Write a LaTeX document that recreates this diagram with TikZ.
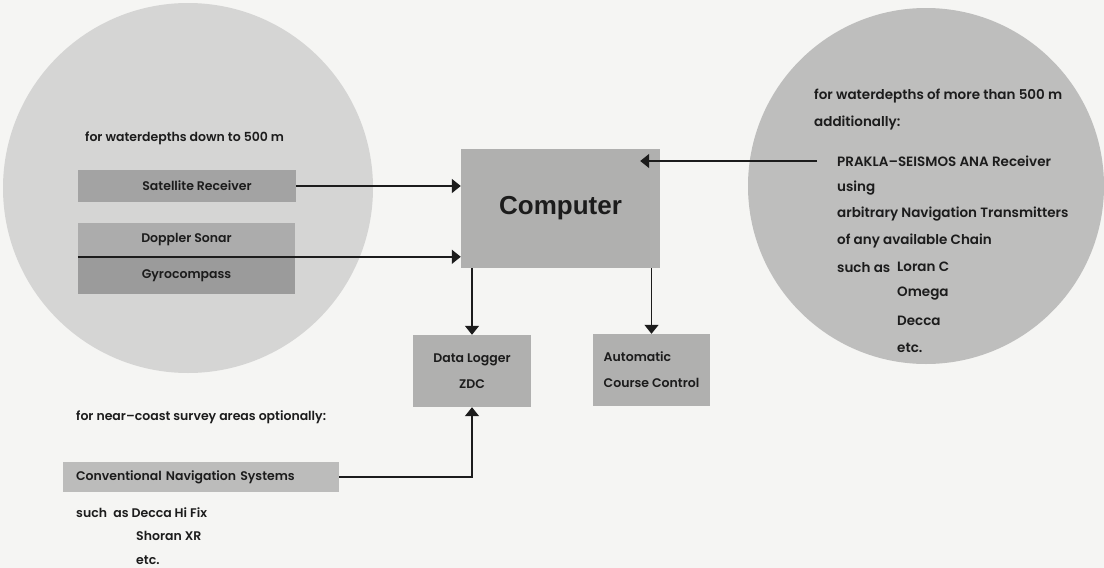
\documentclass[tikz,border=0pt]{standalone}
\usepackage{fontspec}
\setmainfont{Poppins}[UprightFont=* SemiBold]
\newfontfamily\compfont{Liberation Sans}
\usetikzlibrary{arrows.meta}

\definecolor{sfondo}{HTML}{F5F5F3}
\definecolor{cerchiosx}{HTML}{D5D5D4}
\definecolor{cerchiodx}{HTML}{BEBEBD}
\definecolor{barra}{HTML}{A3A3A3}
\definecolor{blocco}{HTML}{B0B0AF}
\definecolor{inchiostro}{HTML}{1C1C1C}

\tikzset{
  testo/.style={font=\fontsize{12.5}{14}\selectfont, text=inchiostro, anchor=west, inner sep=0pt},
  testogr/.style={testo, font=\fontsize{13.5}{15}\selectfont},
  barrabox/.style={fill=barra, text=inchiostro, inner sep=0pt, font=\fontsize{12.5}{14}\selectfont},
  blocbox/.style={fill=blocco, text=inchiostro, inner sep=0pt, font=\fontsize{12.5}{26}\selectfont},
  freccia/.style={line width=1.7pt, draw=inchiostro, -{Triangle[length=9pt,width=14pt]}},
}

\begin{document}
\begin{tikzpicture}[x=1pt,y=-1pt]
    \useasboundingbox (0,0) rectangle (1104,568);
    \fill[sfondo] (0,0) rectangle (1104,568);

    % Disegna i due cerchi
    \fill[cerchiosx] (188,188) circle[radius=185];
    \fill[cerchiodx] (926,186) circle[radius=178];

    % Cerchio di sinistra: ricevitori
    \node[testo] (acque1) at (85,138) {for waterdepths down to 500 m};
    \node[barrabox, minimum width=218, minimum height=32] (sat) at (187,186) {\hspace*{20pt}Satellite Receiver};
    \node[barrabox, minimum width=217, minimum height=34, fill=barra!90!white] (doppler) at (186.5,240) {Doppler Sonar};
    \node[barrabox, minimum width=217, minimum height=37, fill=barra!95!black] (gyro) at (186.5,275.5) {Gyrocompass};

    % Blocco centrale
    \node[blocbox, minimum width=199, minimum height=119,
          font=\compfont\bfseries\fontsize{26}{28}\selectfont] (comp) at (560.5,208.5) {Computer};

    % Uscite
    \node[blocbox, minimum width=118, minimum height=72, align=center] (logger) at (472,371) {Data Logger\\ZDC};
    \node[blocbox, minimum width=117, minimum height=72, align=left] (course) at (651.5,370) {Automatic\\Course Control};

    % Cerchio di destra: ricevitore ANA
    \node[testogr] (acque2) at (814,96) {for waterdepths of more than 500 m};
    \node[testogr] (addiz) at (814,123) {additionally:};
    \foreach \riga [count=\i] in {PRAKLA--SEISMOS ANA Receiver, using,
        arbitrary Navigation Transmitters, of any available Chain, such as}
      \node[testogr] (ana\i) at (837,161+26.7*\i-26.7) {\riga};
    \foreach \catena [count=\i] in {Loran C, Omega, Decca, etc.}
      \node[testogr] (catena\i) at (897,267+27*\i-27) {\catena};

    % Sistemi vicino alla costa
    \node[testo] (costa) at (76,417) {for near--coast survey areas optionally:};
    \node[barrabox, fill=blocco!85!white, minimum width=276, minimum height=30,
          text width=250, inner xsep=13pt, align=left] (conv) at (201,477) {Conventional Navigation Systems};
    \node[testo] (hifix) at (76,513) {such\enspace as Decca Hi Fix};
    \node[testo] (shoran) at (136,536) {Shoran XR};
    \node[testo] (etc) at (136,560) {etc.};

    % Frecce
    \draw[freccia] (sat.east) -- (sat.east -| comp.west);
    \draw[freccia] (gyro.north west) -- (gyro.north west -| comp.west);
    \draw[freccia] ([xshift=-20pt]ana1.west) -- ([xshift=-20pt]ana1.west -| comp.east);
    \draw[freccia, line width=1.3pt] (logger.north |- comp.south) -- (logger.north);
    \draw[freccia, line width=1.3pt] (course.north |- comp.south) -- (course.north);
    \draw[freccia] (conv.east) -- (logger.south |- conv.east) -- (logger.south);

\end{tikzpicture}
\end{document}
